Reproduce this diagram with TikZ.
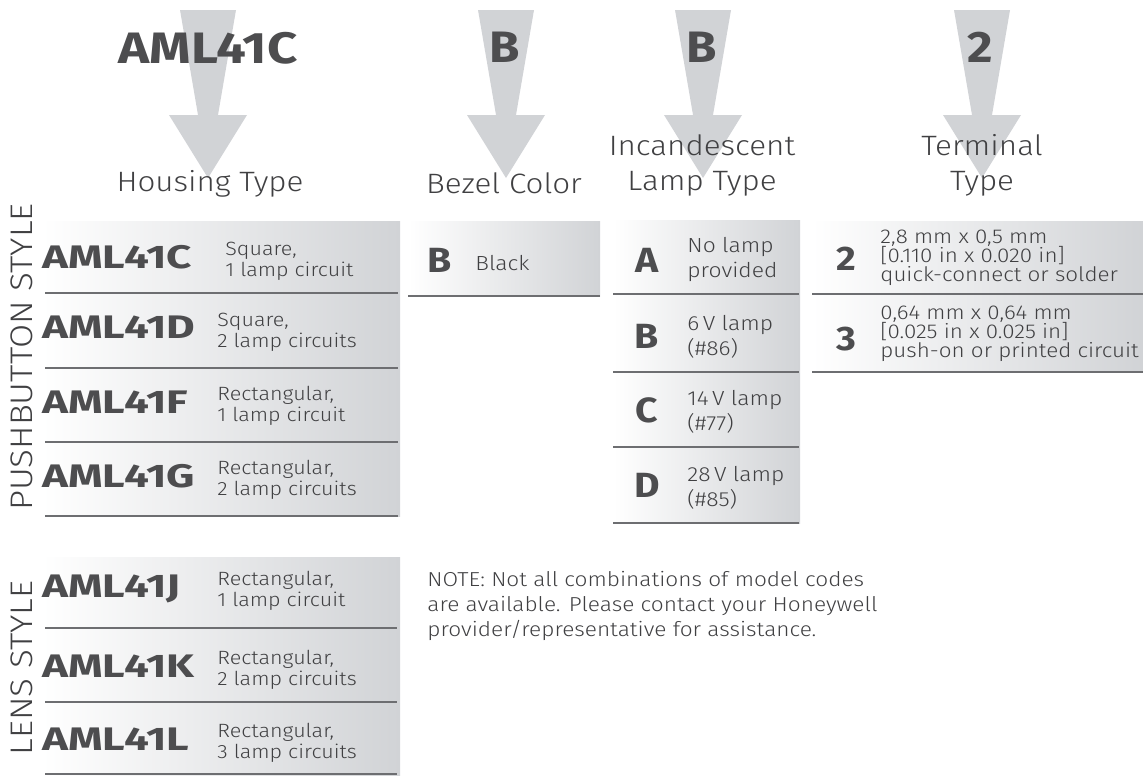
\documentclass[tikz,border=0pt]{standalone}
\usepackage{fontspec}
\setmainfont{Fira Sans}[UprightFont=* Light, BoldFont=* Bold, FakeStretch=1.12]
\newfontfamily\codefont{Fira Sans}[UprightFont=* Bold, FakeStretch=1.35]
\newfontfamily\headcodefont{Fira Sans}[UprightFont=* Bold, FakeStretch=1.2]
\usepackage{xcolor}
\usepackage{tikz}
\usetikzlibrary{positioning}
\definecolor{arrowgray}{RGB}{209,211,214}
\definecolor{boxgray}{RGB}{209,211,214}
\definecolor{rulegray}{RGB}{109,110,113}
\definecolor{inkgray}{RGB}{77,77,79}
\definecolor{thingray}{RGB}{64,64,66}

\begin{document}
\begin{tikzpicture}[x=0.5pt, y=-0.5pt,
  selector/.style={fill=arrowgray},
  panel/.style={left color=white, right color=boxgray},
  rowline/.style={draw=rulegray, line width=1.25pt},
  topcode/.style={inner sep=0, anchor=base, text=inkgray, font=\fontsize{22}{24}\selectfont\bfseries},
  heading/.style={inner sep=0, align=center, text=thingray, font=\fontsize{14}{17.5}\selectfont},
  code/.style={inner sep=0, anchor=base west, text=inkgray, font=\fontsize{16.3}{18}\codefont},
  letter/.style={inner sep=0, anchor=base, text=inkgray, font=\fontsize{17.5}{20}\selectfont\bfseries},
  desc/.style={inner sep=0, anchor=west, align=left, text=thingray, font=\fontsize{9.6}{10.7}\selectfont},
  lampdesc/.style={inner sep=0, anchor=west, align=left, text=thingray, font=\fontsize{10.2}{12.5}\selectfont},
  termdesc/.style={inner sep=0, anchor=west, align=left, text=thingray, font=\fontsize{10}{9.6}\selectfont},
  sidelabel/.style={inner sep=0, rotate=90, text=thingray, font=\fontsize{15.6}{17}\selectfont}
]
\useasboundingbox (0,0) rectangle (1143,776);

% Selector arrows behind the model code.
\fill[selector] (180,10) -- (236,10) -- (218,115) -- (247,115) -- (208,178) -- (169,115) -- (198,115) -- cycle;
\fill[selector] (478,10) -- (534,10) -- (516,115) -- (545,115) -- (506,178) -- (467,115) -- (496,115) -- cycle;
\fill[selector] (675,10) -- (731,10) -- (713,115) -- (742,115) -- (703,178) -- (664,115) -- (693,115) -- cycle;
\fill[selector] (954,10) -- (1010,10) -- (992,115) -- (1021,115) -- (982,178) -- (943,115) -- (972,115) -- cycle;

\node[topcode, font=\fontsize{22}{24}\headcodefont] (pickhousing) at (208,63) {AML41C};
\node[topcode] (pickbezel) at (505,62) {B};
\node[topcode] (picklamp) at (702,62) {B};
\node[topcode] (pickterminal) at (980,62) {2};

\node[heading, anchor=base] (hhousing) at (210,191) {Housing Type};
\node[heading, anchor=base] (hbezel) at (504,193) {Bezel Color};
\node[heading] (hlamp) at (702,165) {Incandescent\\Lamp Type};
\node[heading] (hterminal) at (982,165) {Terminal\\Type};

% Shaded panels and row rules.
\shade[panel] (42,221) rectangle (400,516);
\shade[panel] (42,557) rectangle (400,775);
\shade[panel] (408,221) rectangle (600,296);
\shade[panel] (613,220) rectangle (800,523);
\shade[panel] (812,221) rectangle (1143,372);

\draw[rowline] (45,293) -- (398,293);
\draw[rowline] (45,368) -- (398,368);
\draw[rowline] (45,442) -- (398,442);
\draw[rowline] (45,516) -- (398,516);
\draw[rowline] (45,628) -- (397,628);
\draw[rowline] (45,702) -- (397,702);
\draw[rowline] (45,774) -- (397,774);
\draw[rowline] (408,296) -- (600,296);
\draw[rowline] (613,294) -- (799,294);
\draw[rowline] (613,372) -- (799,372);
\draw[rowline] (613,447) -- (799,447);
\draw[rowline] (613,523) -- (799,523);
\draw[rowline] (812,294) -- (1143,294);
\draw[rowline] (812,372) -- (1143,372);

% Housing type, pushbutton style.
\node[sidelabel] (pushbutton) at (22,357) {PUSHBUTTON STYLE};
\node[code] (aml41c) at (42,268) {AML41C};
\node[desc] (aml41ctext) at (225,261) {Square,\\1 lamp circuit};
\node[code] (aml41d) at (42,338) {AML41D};
\node[desc] (aml41dtext) at (217,332) {Square,\\2 lamp circuits};
\node[code] (aml41f) at (42,413) {AML41F};
\node[desc] (aml41ftext) at (217,406) {Rectangular,\\1 lamp circuit};
\node[code] (aml41g) at (42,487) {AML41G};
\node[desc] (aml41gtext) at (217,480) {Rectangular,\\2 lamp circuits};

% Housing type, lens style.
\node[sidelabel] (lens) at (22,668) {LENS STYLE};
\node[code] (aml41j) at (42,597) {AML41J};
\node[desc] (aml41jtext) at (217,591) {Rectangular,\\1 lamp circuit};
\node[code] (aml41k) at (42,677) {AML41K};
\node[desc] (aml41ktext) at (217,670) {Rectangular,\\2 lamp circuits};
\node[code] (aml41l) at (42,750) {AML41L};
\node[desc] (aml41ltext) at (217,743) {Rectangular,\\3 lamp circuits};

% Bezel color.
\node[letter] (bezelb) at (440,272) {B};
\node[lampdesc, anchor=base west] (bezelbtext) at (475,270) {Black};

% Incandescent lamp type.
\node[letter] (lampa) at (647,272) {A};
\node[lampdesc] (lampatext) at (687,260) {No lamp\\provided};
\node[letter] (lampb) at (647,348) {B};
\node[lampdesc] (lampbtext) at (687,337) {6\,V lamp\\(\#86)};
\node[letter] (lampc) at (647,422) {C};
\node[lampdesc] (lampctext) at (687,412) {14\,V lamp\\(\#77)};
\node[letter] (lampd) at (647,497) {D};
\node[lampdesc] (lampdtext) at (687,488) {28\,V lamp\\(\#85)};

% Terminal type.
\node[letter, font=\fontsize{17}{19}\selectfont\bfseries] (term2) at (846,270) {2};
\node[termdesc] (term2text) at (880,258) {2,8 mm x 0,5 mm\\{}[0.110 in x 0.020 in]\\quick-connect or solder};
\node[letter, font=\fontsize{17}{19}\selectfont\bfseries] (term3) at (846,350) {3};
\node[termdesc] (term3text) at (880,334) {0,64 mm x 0,64 mm\\{}[0.025 in x 0.025 in]\\push-on or printed circuit};

\node[inner sep=0, anchor=north west, align=left, text=thingray,
  font=\fontsize{10.1}{12.5}\selectfont] (note) at (427,571)
  {NOTE: Not all combinations of model codes\\are available. Please contact your Honeywell\\provider/representative for assistance.};

\end{tikzpicture}
\end{document}
